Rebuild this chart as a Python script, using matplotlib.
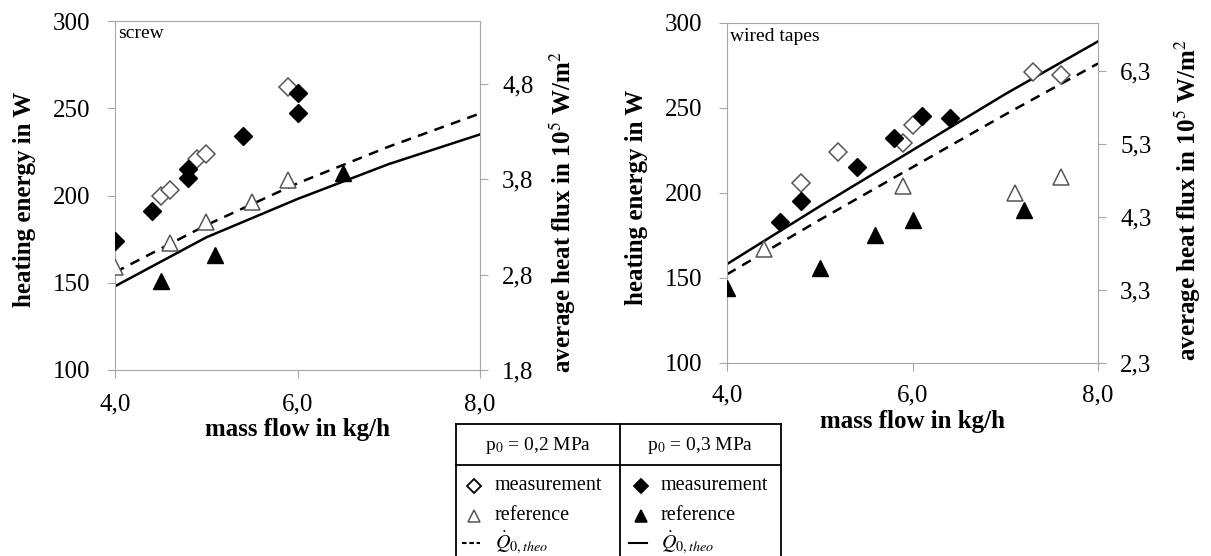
import numpy as np
import matplotlib
matplotlib.use("Agg")
import matplotlib.pyplot as plt
from matplotlib.lines import Line2D
from matplotlib.ticker import FuncFormatter

plt.rcParams['font.family'] = ['Liberation Serif', 'DejaVu Serif']
plt.rcParams['mathtext.fontset'] = 'stix'

# ---- data: screw ----
screw_meas02_x = [4.5, 4.6, 4.9, 5.0, 5.9]
screw_meas02_y = [200, 203, 221, 224, 262]
screw_meas03_x = [4.0, 4.4, 4.8, 4.8, 5.4, 6.0, 6.0]
screw_meas03_y = [174, 191, 215, 210, 234, 259, 247]
screw_ref02_x = [4.0, 4.6, 5.0, 5.5, 5.9]
screw_ref02_y = [159, 173, 185, 196, 209]
screw_ref03_x = [4.5, 5.1, 6.5]
screw_ref03_y = [151, 166, 213]
screw_theo_x = [4.0, 5.0, 6.0, 7.0, 8.0]
screw_theo02_y = [156, 183, 207, 228, 247]
screw_theo03_y = [148, 176, 198, 218, 235]

# ---- data: wired tapes ----
tape_meas02_x = [4.8, 5.2, 5.9, 6.0, 7.3, 7.6]
tape_meas02_y = [206, 224, 229, 240, 271, 269]
tape_meas03_x = [4.57, 4.8, 5.4, 5.8, 6.1, 6.4]
tape_meas03_y = [183, 195, 215, 232, 245, 244]
tape_ref02_x = [4.4, 5.9, 7.1, 7.6]
tape_ref02_y = [167, 204, 200, 209]
tape_ref03_x = [4.0, 5.0, 5.6, 6.0, 7.2]
tape_ref03_y = [144, 156, 175, 184, 190]
tape_theo_x = [4.0, 5.0, 6.0, 7.0, 8.0]
tape_theo02_y = [152, 184, 215, 246, 276]
tape_theo03_y = [158, 192, 225, 258, 289]

xticks = [4.0, 6.0, 8.0]
yticks = [100, 150, 200, 250, 300]
screw_flux_ticks = [1.8, 2.8, 3.8, 4.8]
tape_flux_ticks = [2.3, 3.3, 4.3, 5.3, 6.3]

W, H = 1211, 556
fig = plt.figure(figsize=(W / 100, H / 100), dpi=100)

def box(l, r, t, b):
    return [l / W, 1 - b / H, (r - l) / W, (b - t) / H]

grey = '#a6a6a6'
comma = FuncFormatter(lambda v, p: ('%.1f' % v).replace('.', ','))

def panel(rect, name, mx2, my2, mx3, my3, rx2, ry2, rx3, ry3, tx, t2, t3,
          flux_ticks, flux_lim, ylab, flab, name_y, xpad):
    ax = fig.add_axes(rect)
    ax.plot(tx, t2, color='black', lw=1.8, ls=(0, (4, 3)), zorder=2)
    ax.plot(tx, t3, color='black', lw=1.8, zorder=2)
    ax.plot(mx2, my2, 'D', ms=9, mfc='white', mec='#555555', mew=1.1, ls='none', zorder=3)
    ax.plot(mx3, my3, 'D', ms=9, mfc='black', mec='black', ls='none', zorder=3)
    ax.plot(rx2, ry2, '^', ms=12, mfc='white', mec='#555555', mew=1.1, ls='none', zorder=3)
    ax.plot(rx3, ry3, '^', ms=12, mfc='black', mec='black', ls='none', zorder=3)
    ax.set_xlim(4.0, 8.0)
    ax.set_ylim(100, 300)
    ax.set_xticks(xticks)
    ax.set_yticks(yticks)
    ax.xaxis.set_major_formatter(comma)
    for s in ax.spines.values():
        s.set_color(grey)
    ax.tick_params(direction='out', length=6, color=grey, labelsize=18)
    ax.tick_params(axis='y', pad=12)
    ax.tick_params(axis='x', pad=xpad)
    ax.set_xlabel('mass flow in kg/h', fontsize=18, fontweight='bold', labelpad=2)
    ax.set_ylabel('heating energy in W', fontsize=18, fontweight='bold')
    ax.yaxis.label.set_va('center')
    ax.yaxis.set_label_coords(*ylab)
    ax.text(0.008, name_y, name, transform=ax.transAxes, fontsize=14, va='center', ha='left')

    ax2 = ax.twinx()
    ax2.set_ylim(*flux_lim)
    ax2.set_yticks(flux_ticks)
    ax2.yaxis.set_major_formatter(comma)
    for s in ax2.spines.values():
        s.set_visible(False)
    ax2.tick_params(direction='out', length=6, color=grey, labelsize=18, pad=10)
    ax2.set_ylabel(r'average heat flux in 10$^5$ W/m$^2$', fontsize=18, fontweight='bold')
    ax2.yaxis.label.set_va('center')
    ax2.yaxis.set_label_coords(*flab)
    return ax

panel(box(115, 480, 21, 370), 'screw',
      screw_meas02_x, screw_meas02_y, screw_meas03_x, screw_meas03_y,
      screw_ref02_x, screw_ref02_y, screw_ref03_x, screw_ref03_y,
      screw_theo_x, screw_theo02_y, screw_theo03_y,
      screw_flux_ticks, (1.8, 5.461), (-0.247, 0.49), (1.227, 0.453), 0.965, 11)

panel(box(727, 1098, 22.7, 362.7), 'wired tapes',
      tape_meas02_x, tape_meas02_y, tape_meas03_x, tape_meas03_y,
      tape_ref02_x, tape_ref02_y, tape_ref03_x, tape_ref03_y,
      tape_theo_x, tape_theo02_y, tape_theo03_y,
      tape_flux_ticks, (2.3, 6.958), (-0.243, 0.487), (1.243, 0.478), 0.958, 10)

# ---- legend table ----
def fx(x):
    return x / W

def fy(y):
    return 1 - y / H

tl, tr, tt, tb, hdr, mid = 456, 781, 424, 560, 465, 620
for xs, ys in [([tl, tr], [tt, tt]), ([tl, tr], [hdr, hdr]), ([tl, tl], [tt, tb]),
               ([tr, tr], [tt, tb]), ([mid, mid], [tt, tb])]:
    fig.add_artist(Line2D([fx(v) for v in xs], [fy(v) for v in ys], color='black', lw=1.3))

fig.text(fx((tl + mid) / 2), fy(445), r'p$_0$ = 0,2 MPa', fontsize=14, ha='center', va='center')
fig.text(fx((mid + tr) / 2), fy(445), r'p$_0$ = 0,3 MPa', fontsize=14, ha='center', va='center')

rows = [486, 516, 543]
labels = ['measurement', 'reference', r'$\dot{Q}_{0,theo}$']
for col, (mx, txx, fill) in enumerate([(474, 495, 'white'), (641, 661, 'black')]):
    fig.add_artist(Line2D([fx(mx)], [fy(rows[0])], marker='D', ms=7, mfc=fill, mec='black', mew=1.3, ls='none'))
    fig.add_artist(Line2D([fx(mx)], [fy(rows[1])], marker='^', ms=8, mfc=fill,
                          mec='#555555' if fill == 'white' else 'black', mew=1.1, ls='none'))
    fig.add_artist(Line2D([fx(mx - 12), fx(mx + 6)], [fy(rows[2]), fy(rows[2])], color='black', lw=1.5,
                          ls=(0, (2.2, 1.3)) if col == 0 else '-'))
    for r, lab in zip(rows, labels):
        fig.text(fx(txx), fy(r), lab, fontsize=14.5, ha='left', va='center')

fig.savefig('out.png', dpi=100)
